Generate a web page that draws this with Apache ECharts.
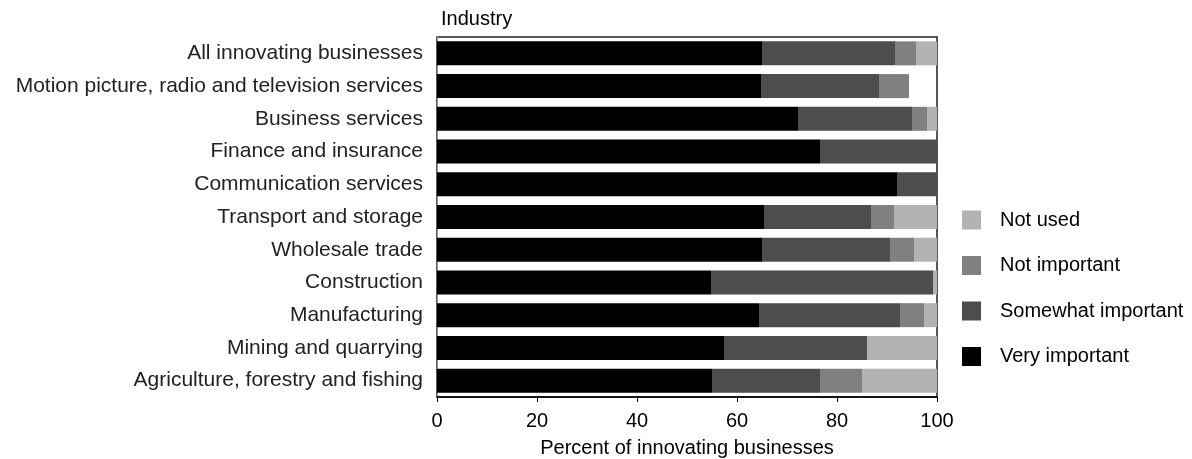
<!DOCTYPE html>
<html>
<head>
<meta charset="utf-8">
<script src="https://cdn.jsdelivr.net/npm/echarts@6/dist/echarts.min.js"></script>
<style>
html,body{margin:0;padding:0;background:#fff;}
#chart{width:1192px;height:459px;}
</style>
</head>
<body>
<div id="chart"></div>
<script>
const categories = [
  'All innovating businesses',
  'Motion picture, radio and television services',
  'Business services',
  'Finance and insurance',
  'Communication services',
  'Transport and storage',
  'Wholesale trade',
  'Construction',
  'Manufacturing',
  'Mining and quarrying',
  'Agriculture, forestry and fishing'
];
const veryImportant     = [65.0, 64.8, 72.2, 76.6, 92.0, 65.4, 65.0, 54.8, 64.4, 57.4, 55.0];
const somewhatImportant = [26.6, 23.6, 22.8, 23.4,  8.0, 21.4, 25.6, 44.4, 28.2, 28.6, 21.6];
const notImportant      = [ 4.2,  6.0,  3.0,  0.0,  0.0,  4.6,  4.8,  0.0,  4.8,  0.0,  8.4];
const notUsed           = [ 4.2,  0.0,  2.0,  0.0,  0.0,  8.6,  4.6,  0.8,  2.6, 14.0, 15.0];
const seriesNames = ['Very important', 'Somewhat important', 'Not important', 'Not used'];
const seriesColors = ['#000000', '#4d4d4d', '#808080', '#b3b3b3'];
const xTicks = [0, 20, 40, 60, 80, 100];

const chart = echarts.init(document.getElementById('chart'), null, {renderer: 'canvas'});
const font = 'Liberation Sans, Arial, sans-serif';
const dataSets = [veryImportant, somewhatImportant, notImportant, notUsed];

chart.setOption({
  animation: false,
  textStyle: {fontFamily: font},
  grid: {left: 437, right: 255, top: 37, bottom: 62, containLabel: false, outerBoundsMode: 'none',
         show: true, borderColor: '#222', borderWidth: 1.5, backgroundColor: 'transparent'},
  xAxis: {
    type: 'value', min: 0, max: 100, interval: 20,
    name: 'Percent of innovating businesses', nameLocation: 'middle', nameGap: 41,
    nameTextStyle: {fontFamily: font, fontSize: 20, color: '#000'},
    axisLine: {show: true, lineStyle: {color: '#000', width: 1.5}},
    axisTick: {show: true, length: 5, lineStyle: {color: '#000'}},
    axisLabel: {fontFamily: font, fontSize: 20, color: '#000', margin: 14,
      formatter: v => xTicks.includes(v) ? String(v) : ''},
    splitLine: {show: false}
  },
  yAxis: {
    type: 'category', data: categories, inverse: true,
    axisLine: {show: true, lineStyle: {color: '#999', width: 1}},
    axisTick: {show: false},
    axisLabel: {fontFamily: font, fontSize: 21, color: '#222', margin: 14}
  },
  legend: {
    orient: 'vertical', left: 962, top: 210, padding: 0,
    itemWidth: 19, itemHeight: 19, itemGap: 25.5,
    data: ['Not used', 'Not important', 'Somewhat important', 'Very important'],
    icon: 'rect',
    textStyle: {fontFamily: font, fontSize: 20, lineHeight: 19, color: '#000', padding: [0, 0, 0, 14]}
  },
  graphic: [{
    type: 'text', left: 441, top: 9,
    style: {text: 'Industry', font: '20px ' + font, fill: '#000'}
  }],
  series: seriesNames.map((n, i) => ({
    name: n, type: 'bar', stack: 'total', barWidth: 24,
    itemStyle: {color: seriesColors[i]},
    data: dataSets[i]
  }))
});
</script>
</body>
</html>
